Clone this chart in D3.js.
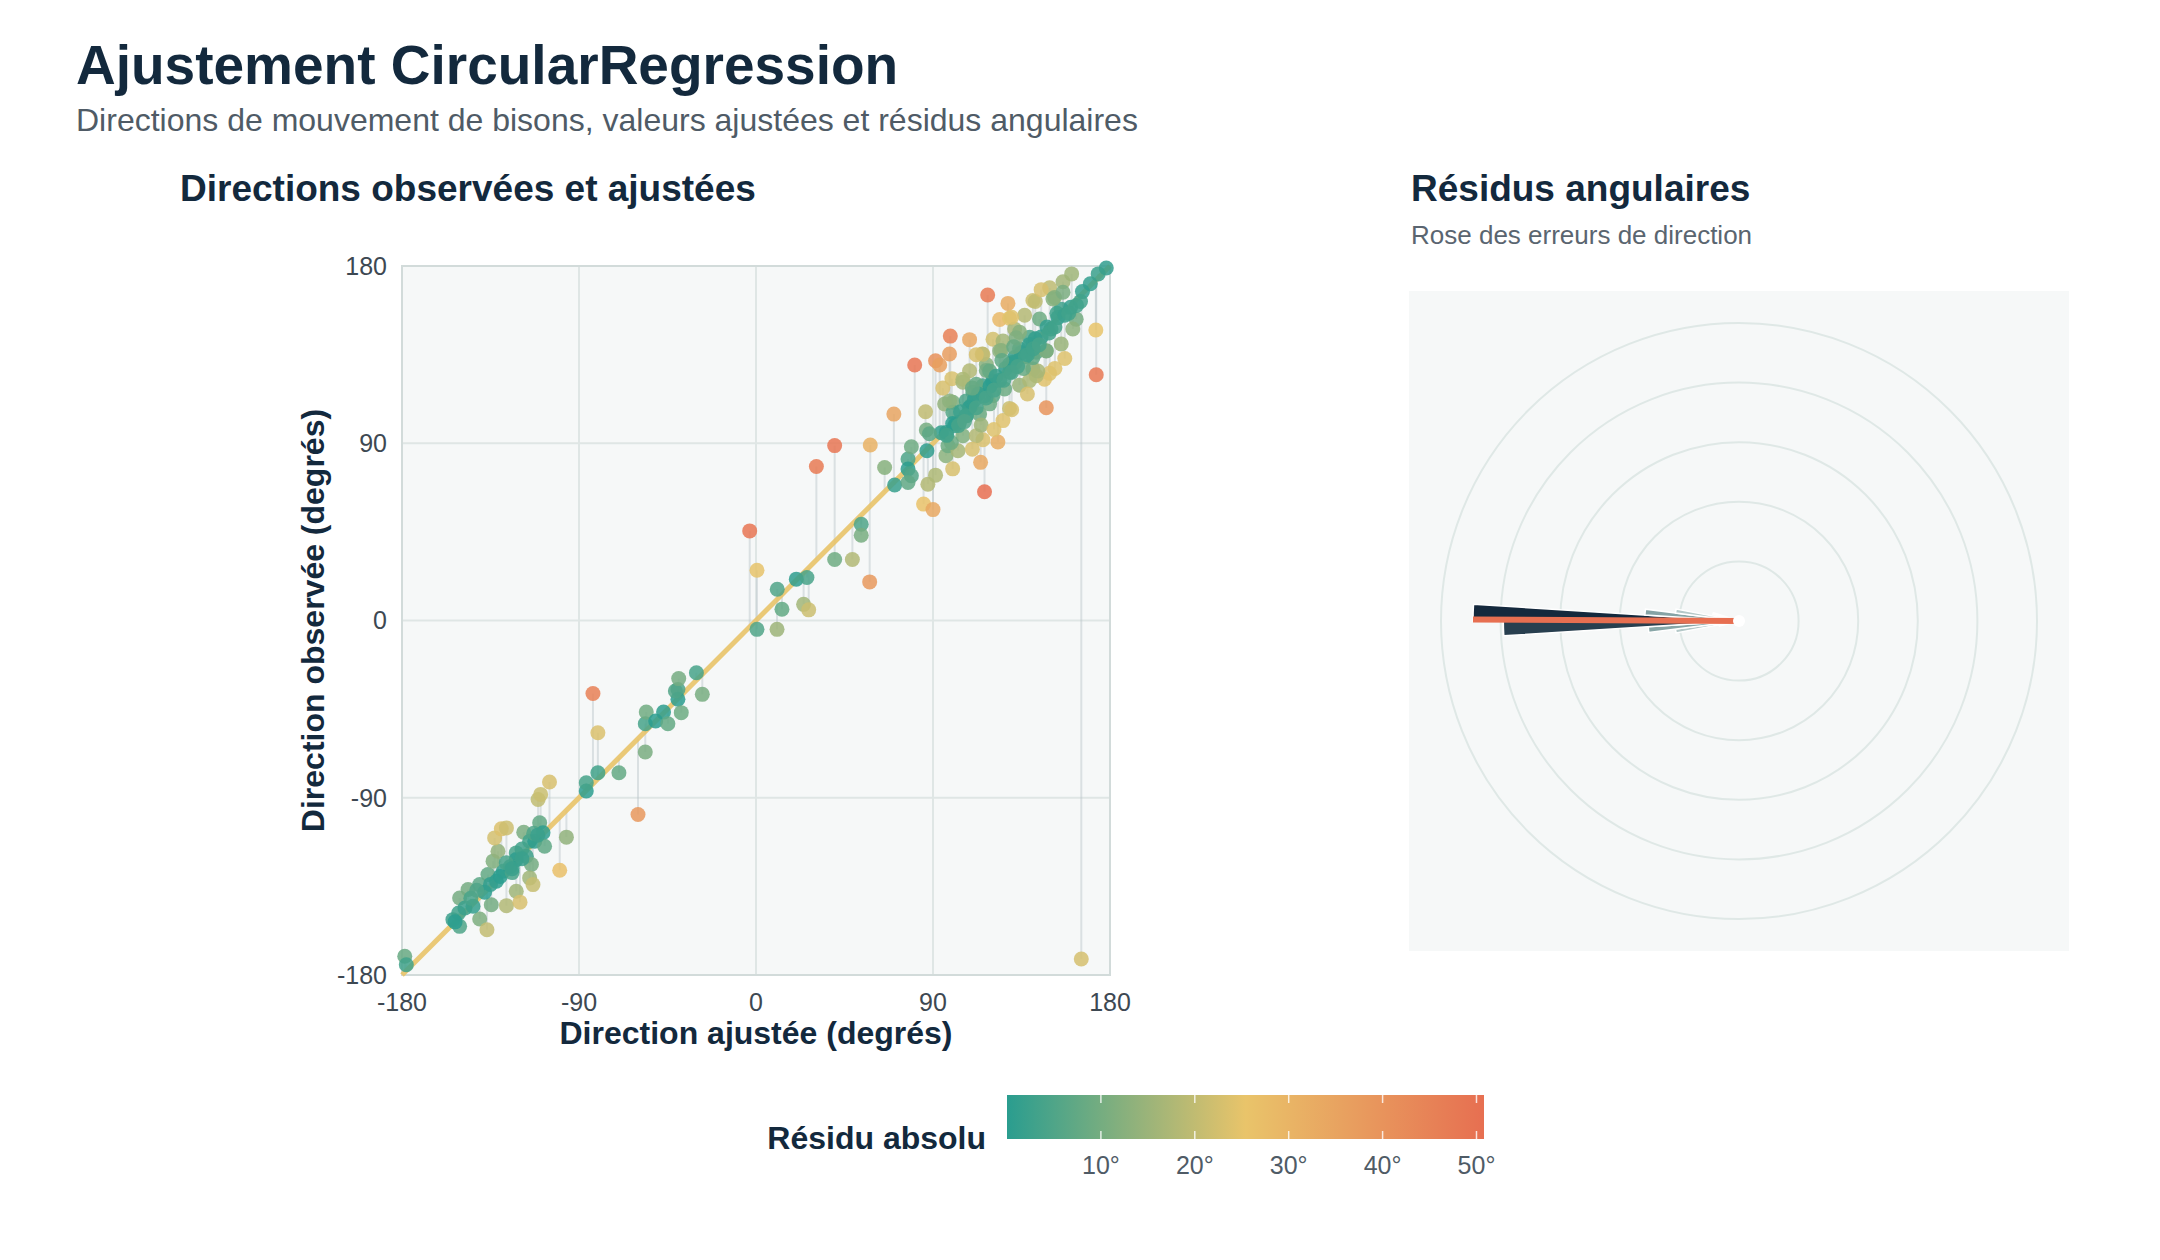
<!DOCTYPE html>
<html>
<head>
<meta charset="utf-8">
<script src="https://cdn.jsdelivr.net/npm/d3@7"></script>
<style>
  body { margin: 0; background: #fff; }
  svg { display: block; font-family: "Liberation Sans", Arial, Helvetica, sans-serif; }
</style>
</head>
<body>
<svg id="chart" width="2160" height="1260"></svg>
<script>
// fitted direction (x) and observed direction (y), degrees
const fitted = [
  -178.6, -177.8, -154.1, -150.7, -151.2, -140.5, -136.8, -143.9, -150.7, -146.4,
  -140.5, -134.6, -136.3, -132, -128.6, -126.9, -121.9, -133.7, -131.2, -132.9,
  -129.5, -126.9, -121.9, -121.9, -116.8, -114.2, -118.1, -115.1, -112.5, -110,
  -108.3, -107.5, -115.1, -113.4, -110.8, -109.5, -96.4, -99.8, -86.3, -86.3,
  -148, -145, -138, -135, -130, -125, -124, -119, -113, -142,
  -153, -127, -119, -111, -124, -120, -105,
  -82.9, -80.4, -80.4, -69.7, -60, -56.3, -56.3, -55.8, -51, -47,
  -44.8, -39.7, -39.7, -41, -39.3, -38, -30.3, -27.3, 0.5, 0.5,
  -3.2, 10.8, 13.2, 10.7, 20.5, 25.9, 24.2, 26.8, 57.8, 30.7,
  40, 40, 49, 53.5, 53.5, 58.1,
  65.4, 70.1, 70.5, 77.3, 77.3, 79, 77.3, 79, 80.7, 85.2,
  90, 86.9, 87.4, 91.3, 86.2, 86.6, 91.3, 93.4, 94.2, 98.8,
  98.4, 99.6, 96.6, 97.6, 102.7, 100.1, 105.2, 108.6, 108.6, 115,
  114.2, 116.2, 117.8, 128.1, 123.9, 128.9, 149.3, 156.1, 160.5, 172.8,
  173, 178.1, 147.6, 123, 115.4, 125.6, 128.9, 149.3, 146.7, 162.8,
  161.1, 155.2, 153.5, 151.8, 140.8, 139.1, 134, 130.6, 120.5, 115.4,
  109.5, 106.9, 101.8, 96.8, 120.5, 126.4, 134, 140.8, 142.5, 155.2,
  140.8, 142, 136.6, 131.5, 120.5, 125.6, 124.7, 117.1, 134, 144.2,
  151, 147.6, 156.1, 142.5, 139.1, 117.1, 110.3, 113.7, 105.2, 99.3,
  95.9, 100.1, 112, 132.3, 123.9, 115.4, 105.2, 143.3, 120.5, 118.8,
  112, 106.9, 98.4, 131.5, 140.8, 128.9, 147.6, 103.5, 108.6, 118.8,
  114.5, 88.2, 101, 165.4,
  100, 104, 107, 111, 113, 116, 119, 122, 124, 127,
  129, 132, 135, 137, 139, 142, 145, 148, 150, 153,
  157, 160, 163, 166, 170, 174, 131, 136, 125, 110,
  97, 103, 106, 112, 117, 121, 126, 130, 133, 138,
  141, 144, 149, 152, 159, 165,
  138, 152, 130, 110, 121, 100, 157,
  112, 130, 145, 95
];
const observed = [
  -170.5, -174.8, -151.9, -155.3, -148.5, -151.6, -157, -145.1, -140.9, -136.6,
  -134.1, -144.3, -129, -132.4, -127.3, -144.8, -137.5, -122.2, -117.2, -110.4,
  -105.8, -105.3, -118, -121.4, -119.7, -123.9, -107.5, -112.1, -112.1, -102.7,
  -107.8, -114.6, -130.7, -134.1, -90.9, -88.3, -110, -126.8, -86.6, -82.4,
  -146, -141, -138, -134, -130, -125, -128, -116, -108, -137,
  -153, -123, -121, -109, -126, -143, -82,
  -37.1, -57, -77.3, -77.3, -98.5, -66.8, -52.4, -46.5, -51, -46.5,
  -52.4, -35, -40, -35.8, -29.5, -46.8, -26.5, -37.5, -4.5, 25.5,
  45.5, 15.9, 5.7, -4.5, 21, 21.8, 8.2, 5.4, 19.6, 78.2,
  88.8, 31, 31, 48.9, 43.3, 89.1,
  77.7, 104.8, 68.8, 82, 76.9, 73.5, 70.1, 88.2, 129.7, 59.1,
  56.3, 86.2, 69.2, 73.8, 106, 96.7, 131.9, 129.7, 95.3, 144.4,
  135.3, 122.8, 83.7, 88.7, 86.2, 110.8, 121, 126.8, 142.6, 135.3,
  80.3, 65.4, 165.3, 161, 152.8, 153.5, 168.9, 172, 176, 147.5,
  124.8, 179, 108, 90.6, 91.8, 101.5, 107.7, 125.5, 122.5, 153,
  148, 158.1, 153.8, 164, 140.4, 143.8, 137.9, 131.1, 121, 119.2,
  109.1, 104, 99.8, 95.5, 114.2, 117.6, 119.5, 127.7, 136.2, 140.4,
  162.5, 162, 155, 148, 142.8, 141.9, 137.1, 130, 146.4, 153.1,
  163.3, 137, 166.7, 124.3, 121.8, 127, 115.9, 104.8, 93.8, 90.4,
  109.9, 105.7, 93.8, 143.6, 136.9, 135.2, 122.5, 126.7, 121.6, 126.7,
  119.9, 111.5, 111.5, 133.5, 133.5, 130.1, 136.9, 100.6, 108.2, 110,
  99.3, 94.8, 98.9, -171.9,
  100, 106, 104, 112, 115, 114, 119, 124, 122, 128,
  126, 131, 136, 134, 140, 143, 144, 149, 148, 156,
  155, 159, 160, 167, 171, 176, 139, 128, 132, 118,
  94, 99, 101, 108, 113, 117, 122, 126, 129, 135,
  138, 140, 146, 149, 156, 162,
  115, 128, 107, 87, 97, 77, 133,
  135, 154, 168, 118
];
const axisTicks = [-180, -90, 0, 90, 180];
const legendTicks = [10, 20, 30, 40, 50];
const roseThresholds = d3.range(-60, 61, 10);   // residual bins, degrees
const ringCount = 5;

const wrap = d => ((d + 180) % 360 + 360) % 360 - 180;
const data = fitted.map((f, i) => ({ fit: f, obs: observed[i], res: wrap(observed[i] - f) }));
const maxRes = d3.max(data, d => Math.abs(d.res));

const svg = d3.select("#chart");
const ink = "#13293d";

// headings
svg.append("text").attr("x", 76).attr("y", 84)
  .attr("font-size", 55).attr("font-weight", 700).attr("fill", ink)
  .text("Ajustement CircularRegression");
svg.append("text").attr("x", 76).attr("y", 131)
  .attr("font-size", 32).attr("fill", "#4f5b66")
  .text("Directions de mouvement de bisons, valeurs ajustées et résidus angulaires");

// ---------- scatter ----------
const plot = { x0: 402, x1: 1110, y0: 266, y1: 975 };
const x = d3.scaleLinear().domain([-180, 180]).range([plot.x0, plot.x1]);
const y = d3.scaleLinear().domain([-180, 180]).range([plot.y1, plot.y0]);
const color = d3.scaleLinear()
  .domain([0, maxRes / 2, maxRes])
  .range(["#2a9d8f", "#e9c46a", "#e76f51"]);

svg.append("text").attr("x", 180).attr("y", 201)
  .attr("font-size", 37).attr("font-weight", 700).attr("fill", ink)
  .text("Directions observées et ajustées");

const g = svg.append("g");
g.append("rect")
  .attr("x", plot.x0).attr("y", plot.y0)
  .attr("width", plot.x1 - plot.x0).attr("height", plot.y1 - plot.y0)
  .attr("fill", "#f6f8f8");

g.selectAll(".gx").data(axisTicks.slice(1, -1)).join("line")
  .attr("x1", d => x(d)).attr("x2", d => x(d))
  .attr("y1", plot.y0).attr("y2", plot.y1)
  .attr("stroke", "#dfe6e5").attr("stroke-width", 2);
g.selectAll(".gy").data(axisTicks.slice(1, -1)).join("line")
  .attr("y1", d => y(d)).attr("y2", d => y(d))
  .attr("x1", plot.x0).attr("x2", plot.x1)
  .attr("stroke", "#dfe6e5").attr("stroke-width", 2);

g.append("rect")
  .attr("x", plot.x0).attr("y", plot.y0)
  .attr("width", plot.x1 - plot.x0).attr("height", plot.y1 - plot.y0)
  .attr("fill", "none").attr("stroke", "#d2dbda").attr("stroke-width", 2);

// residual segments
g.selectAll(".seg").data(data).join("line")
  .attr("x1", d => x(d.fit)).attr("x2", d => x(d.fit))
  .attr("y1", d => y(d.fit)).attr("y2", d => y(d.obs))
  .attr("stroke", "#b9c4c9").attr("stroke-width", 2).attr("opacity", 0.45);

// identity line
g.append("line")
  .attr("x1", x(-180)).attr("y1", y(-180))
  .attr("x2", x(180)).attr("y2", y(180))
  .attr("stroke", "#e9c46a").attr("stroke-width", 5).attr("opacity", 0.9);

g.selectAll(".pt").data(data).join("circle")
  .attr("cx", d => x(d.fit)).attr("cy", d => y(d.obs))
  .attr("r", 7.5)
  .attr("fill", d => color(Math.abs(d.res)))
  .attr("opacity", 0.85);

// tick labels
svg.selectAll(".ty").data(axisTicks).join("text")
  .attr("x", plot.x0 - 15).attr("y", d => y(d))
  .attr("dy", "0.35em").attr("text-anchor", "end")
  .attr("font-size", 25).attr("fill", "#3d4852")
  .text(d => d);
svg.selectAll(".tx").data(axisTicks).join("text")
  .attr("x", d => x(d)).attr("y", plot.y1 + 36)
  .attr("text-anchor", "middle")
  .attr("font-size", 25).attr("fill", "#3d4852")
  .text(d => d);

svg.append("text")
  .attr("x", (plot.x0 + plot.x1) / 2).attr("y", 1044)
  .attr("text-anchor", "middle")
  .attr("font-size", 32).attr("font-weight", 700).attr("fill", ink)
  .text("Direction ajustée (degrés)");
svg.append("text")
  .attr("transform", `translate(324,${(plot.y0 + plot.y1) / 2}) rotate(-90)`)
  .attr("text-anchor", "middle")
  .attr("font-size", 32).attr("font-weight", 700).attr("fill", ink)
  .text("Direction observée (degrés)");

// ---------- rose of residuals ----------
svg.append("text").attr("x", 1411).attr("y", 201)
  .attr("font-size", 37).attr("font-weight", 700).attr("fill", ink)
  .text("Résidus angulaires");
svg.append("text").attr("x", 1411).attr("y", 244)
  .attr("font-size", 26).attr("fill", "#5a6570")
  .text("Rose des erreurs de direction");

const rose = { x: 1409, y: 291, size: 660 };
const cx = rose.x + rose.size / 2, cy = rose.y + rose.size / 2;
const outerR = 298;
svg.append("rect")
  .attr("x", rose.x).attr("y", rose.y)
  .attr("width", rose.size).attr("height", rose.size)
  .attr("fill", "#f6f8f8");

const rg = svg.append("g").attr("transform", `translate(${cx},${cy})`);
rg.selectAll(".ring").data(d3.range(1, ringCount + 1)).join("circle")
  .attr("r", k => outerR * k / ringCount)
  .attr("fill", "none").attr("stroke", "#dfe8e6").attr("stroke-width", 2);

const bins = d3.bin().domain([-60, 60]).thresholds(roseThresholds)(data.map(d => d.res));
const maxCount = d3.max(bins, b => b.length);
const rScale = d3.scaleLinear().domain([0, maxCount]).range([0, 266]);
// residual -> angle on the dial, 0 pointing west
const angle = d3.scaleLinear().domain([-50, 50])
  .range([-Math.PI / 2 - 18 * Math.PI / 180, -Math.PI / 2 + 18 * Math.PI / 180]);
const binColor = d3.scaleLinear()
  .domain([0, maxCount * 0.15, maxCount * 0.33, maxCount])
  .range(["#f1f5f5", "#dfe9e8", "#8aa8a9", "#14293d"]);

const arc = d3.arc();
rg.selectAll(".wedge").data(bins.filter(b => b.length > 0)).join("path")
  .attr("d", b => arc({
    innerRadius: 0, outerRadius: rScale(b.length),
    startAngle: angle(b.x0), endAngle: angle(b.x1)
  }))
  .attr("fill", b => binColor(b.length))
  .attr("stroke", "#fff").attr("stroke-width", 1.5);

// mean residual direction
const meanRes = Math.atan2(
  d3.mean(data, d => Math.sin(d.res * Math.PI / 180)),
  d3.mean(data, d => Math.cos(d.res * Math.PI / 180))) * 180 / Math.PI;
const a = angle(meanRes), len = rScale(maxCount);
rg.append("line")
  .attr("x1", 0).attr("y1", 0)
  .attr("x2", len * Math.sin(a)).attr("y2", -len * Math.cos(a))
  .attr("stroke", "#e76f51").attr("stroke-width", 6);
rg.append("circle").attr("r", 6).attr("fill", "#fff");

// ---------- colour legend ----------
const leg = { x0: 1007, x1: 1484, y: 1095, h: 44 };
const lx = d3.scaleLinear().domain([0, maxRes]).range([leg.x0, leg.x1]);
const defs = svg.append("defs");
const grad = defs.append("linearGradient").attr("id", "resgrad");
d3.range(0, 1.0001, 0.1).forEach(t => {
  grad.append("stop").attr("offset", t).attr("stop-color", color(t * maxRes));
});
svg.append("rect")
  .attr("x", leg.x0).attr("y", leg.y)
  .attr("width", leg.x1 - leg.x0).attr("height", leg.h)
  .attr("fill", "url(#resgrad)");
const lt = svg.append("g");
lt.selectAll(".lt1").data(legendTicks).join("line")
  .attr("x1", d => lx(d)).attr("x2", d => lx(d))
  .attr("y1", leg.y).attr("y2", leg.y + 8)
  .attr("stroke", "#fff").attr("stroke-width", 1.5).attr("opacity", 0.8);
lt.selectAll(".lt2").data(legendTicks).join("line")
  .attr("x1", d => lx(d)).attr("x2", d => lx(d))
  .attr("y1", leg.y + leg.h - 8).attr("y2", leg.y + leg.h)
  .attr("stroke", "#fff").attr("stroke-width", 1.5).attr("opacity", 0.8);
lt.selectAll(".ll").data(legendTicks).join("text")
  .attr("x", d => lx(d)).attr("y", 1174)
  .attr("text-anchor", "middle")
  .attr("font-size", 25).attr("fill", "#4f5b66")
  .text(d => d + "°");
svg.append("text")
  .attr("x", 986).attr("y", 1149).attr("text-anchor", "end")
  .attr("font-size", 32).attr("font-weight", 700).attr("fill", ink)
  .text("Résidu absolu");
</script>
</body>
</html>
